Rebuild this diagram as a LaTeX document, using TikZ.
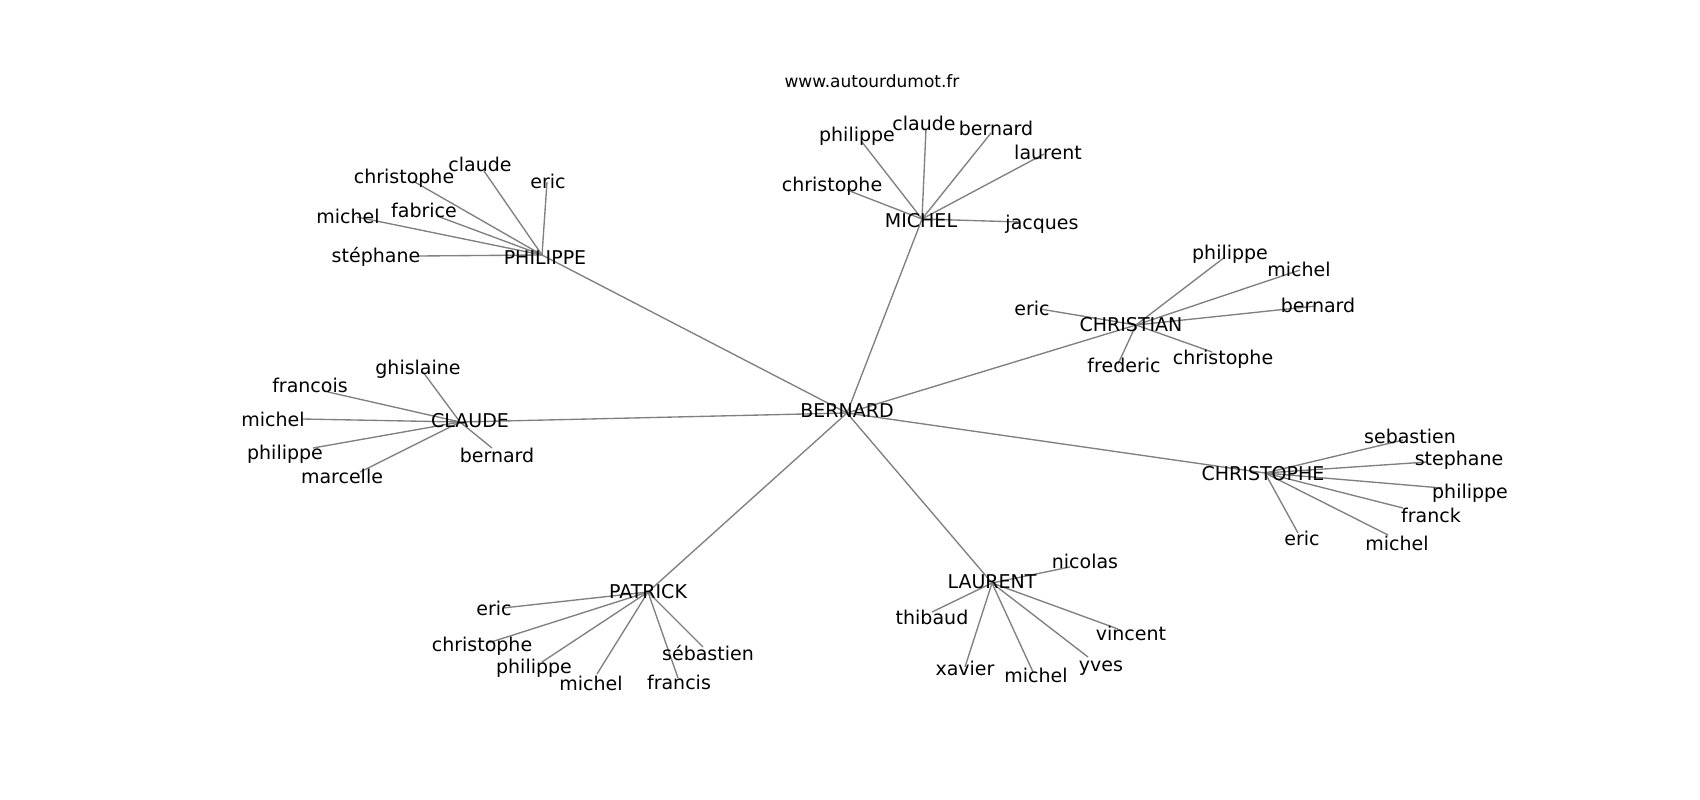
\documentclass[tikz,border=0pt]{standalone}
\usepackage{fontspec}
\newfontfamily\dejavu{DejaVu Sans}
\newcommand\lblfont{\dejavu\fontsize{19}{19}\selectfont}
\newcommand\ttlfont{\dejavu\fontsize{17}{17}\selectfont}
\begin{document}
\begin{tikzpicture}[x=1pt,y=-1pt,
  edge/.style={draw=gray, line width=1.35pt},
  lbl/.style={font=\lblfont, inner sep=0pt, text height=0.6em, text depth=0pt, text=black, yshift=-4pt},
  ttl/.style={font=\ttlfont, inner sep=0pt, text height=0.6em, text depth=0pt, text=black, yshift=-2pt}]
\fill[white] (0,0) rectangle (1700,800);
\useasboundingbox (0,0) rectangle (1700,800);

% hub positions
\coordinate (B) at (847,413);
\coordinate (PH) at (542,255);
\coordinate (MI) at (922,219);
\coordinate (CN) at (1136,325);
\coordinate (CP) at (1265,473);
\coordinate (CL) at (460,422);
\coordinate (PA) at (648,592);
\coordinate (LA) at (992,583);

% leaf positions: PHILIPPE
\coordinate (PH1) at (418,256);
\coordinate (PH2) at (357,217);
\coordinate (PH3) at (413,181);
\coordinate (PH4) at (437,216);
\coordinate (PH5) at (484,171);
\coordinate (PH6) at (547,182);
% MICHEL
\coordinate (MI1) at (862,142);
\coordinate (MI2) at (926,129);
\coordinate (MI3) at (991,133);
\coordinate (MI4) at (1044,154);
\coordinate (MI5) at (847,190);
\coordinate (MI6) at (1020,222);
% CHRISTIAN
\coordinate (CN1) at (1040,309);
\coordinate (CN2) at (1225,257);
\coordinate (CN3) at (1300,270);
\coordinate (CN4) at (1316,306);
\coordinate (CN5) at (1212,352);
\coordinate (CN6) at (1118,364);
% CHRISTOPHE
\coordinate (CP1) at (1403,440);
\coordinate (CP2) at (1427,462);
\coordinate (CP3) at (1442,488);
\coordinate (CP4) at (1403,508);
\coordinate (CP5) at (1388,535);
\coordinate (CP6) at (1298,533);
% CLAUDE
\coordinate (CL1) at (423,372);
\coordinate (CL2) at (328,392);
\coordinate (CL3) at (302,419);
\coordinate (CL4) at (313,448);
\coordinate (CL5) at (360,472);
\coordinate (CL6) at (492,448);
% PATRICK
\coordinate (PA1) at (503,608);
\coordinate (PA2) at (488,643);
\coordinate (PA3) at (542,662);
\coordinate (PA4) at (597,674);
\coordinate (PA5) at (678,678);
\coordinate (PA6) at (703,647);
% LAURENT
\coordinate (LA1) at (1070,567);
\coordinate (LA2) at (932,612);
\coordinate (LA3) at (1118,629);
\coordinate (LA4) at (965,667);
\coordinate (LA5) at (1033,672);
\coordinate (LA6) at (1088,657);

% edges
\foreach \h in {PH,MI,CN,CP,CL,PA,LA}{
  \draw[edge] (B) -- (\h);
  \foreach \i in {1,...,6}{\draw[edge] (\h) -- (\h\i);}
}

% title
\node[ttl] (title) at (872,83) {www.autourdumot.fr};

% hub labels
\node[lbl] (tB) at (847,410) {BERNARD};
\node[lbl] (tPH) at (545,257) {PHILIPPE};
\node[lbl] (tMI) at (921,220) {MICHEL};
\node[lbl] (tCN) at (1131,324) {CHRISTIAN};
\node[lbl] (tCP) at (1263,473) {CHRISTOPHE};
\node[lbl] (tCL) at (470,420) {CLAUDE};
\node[lbl] (tPA) at (648,591) {PATRICK};
\node[lbl] (tLA) at (992,581) {LAURENT};

% PHILIPPE leaves
\node[lbl] (tPH1) at (376,255) {stéphane};
\node[lbl] (tPH2) at (348,216) {michel};
\node[lbl] (tPH3) at (404,176) {christophe};
\node[lbl] (tPH4) at (424,210) {fabrice};
\node[lbl] (tPH5) at (480,164) {claude};
\node[lbl] (tPH6) at (548,181) {eric};
% MICHEL leaves
\node[lbl] (tMI1) at (857,134) {philippe};
\node[lbl] (tMI2) at (924,123) {claude};
\node[lbl] (tMI3) at (996,128) {bernard};
\node[lbl] (tMI4) at (1048,152) {laurent};
\node[lbl] (tMI5) at (832,184) {christophe};
\node[lbl] (tMI6) at (1042,222) {jacques};
% CHRISTIAN leaves
\node[lbl] (tCN1) at (1032,308) {eric};
\node[lbl] (tCN2) at (1230,252) {philippe};
\node[lbl] (tCN3) at (1299,269) {michel};
\node[lbl] (tCN4) at (1318,305) {bernard};
\node[lbl] (tCN5) at (1223,357) {christophe};
\node[lbl] (tCN6) at (1124,365) {frederic};
% CHRISTOPHE leaves
\node[lbl] (tCP1) at (1410,436) {sebastien};
\node[lbl] (tCP2) at (1459,458) {stephane};
\node[lbl] (tCP3) at (1470,491) {philippe};
\node[lbl] (tCP4) at (1431,515) {franck};
\node[lbl] (tCP5) at (1397,543) {michel};
\node[lbl] (tCP6) at (1302,538) {eric};
% CLAUDE leaves
\node[lbl] (tCL1) at (418,367) {ghislaine};
\node[lbl] (tCL2) at (310,385) {francois};
\node[lbl] (tCL3) at (273,419) {michel};
\node[lbl] (tCL4) at (285,452) {philippe};
\node[lbl] (tCL5) at (342,476) {marcelle};
\node[lbl] (tCL6) at (497,455) {bernard};
% PATRICK leaves
\node[lbl] (tPA1) at (494,608) {eric};
\node[lbl] (tPA2) at (482,644) {christophe};
\node[lbl] (tPA3) at (534,666) {philippe};
\node[lbl] (tPA4) at (591,683) {michel};
\node[lbl] (tPA5) at (679,682) {francis};
\node[lbl] (tPA6) at (708,653) {sébastien};
% LAURENT leaves
\node[lbl] (tLA1) at (1085,561) {nicolas};
\node[lbl] (tLA2) at (932,617) {thibaud};
\node[lbl] (tLA3) at (1131,633) {vincent};
\node[lbl] (tLA4) at (965,668) {xavier};
\node[lbl] (tLA5) at (1036,675) {michel};
\node[lbl] (tLA6) at (1101,664) {yves};
\end{tikzpicture}
\end{document}
